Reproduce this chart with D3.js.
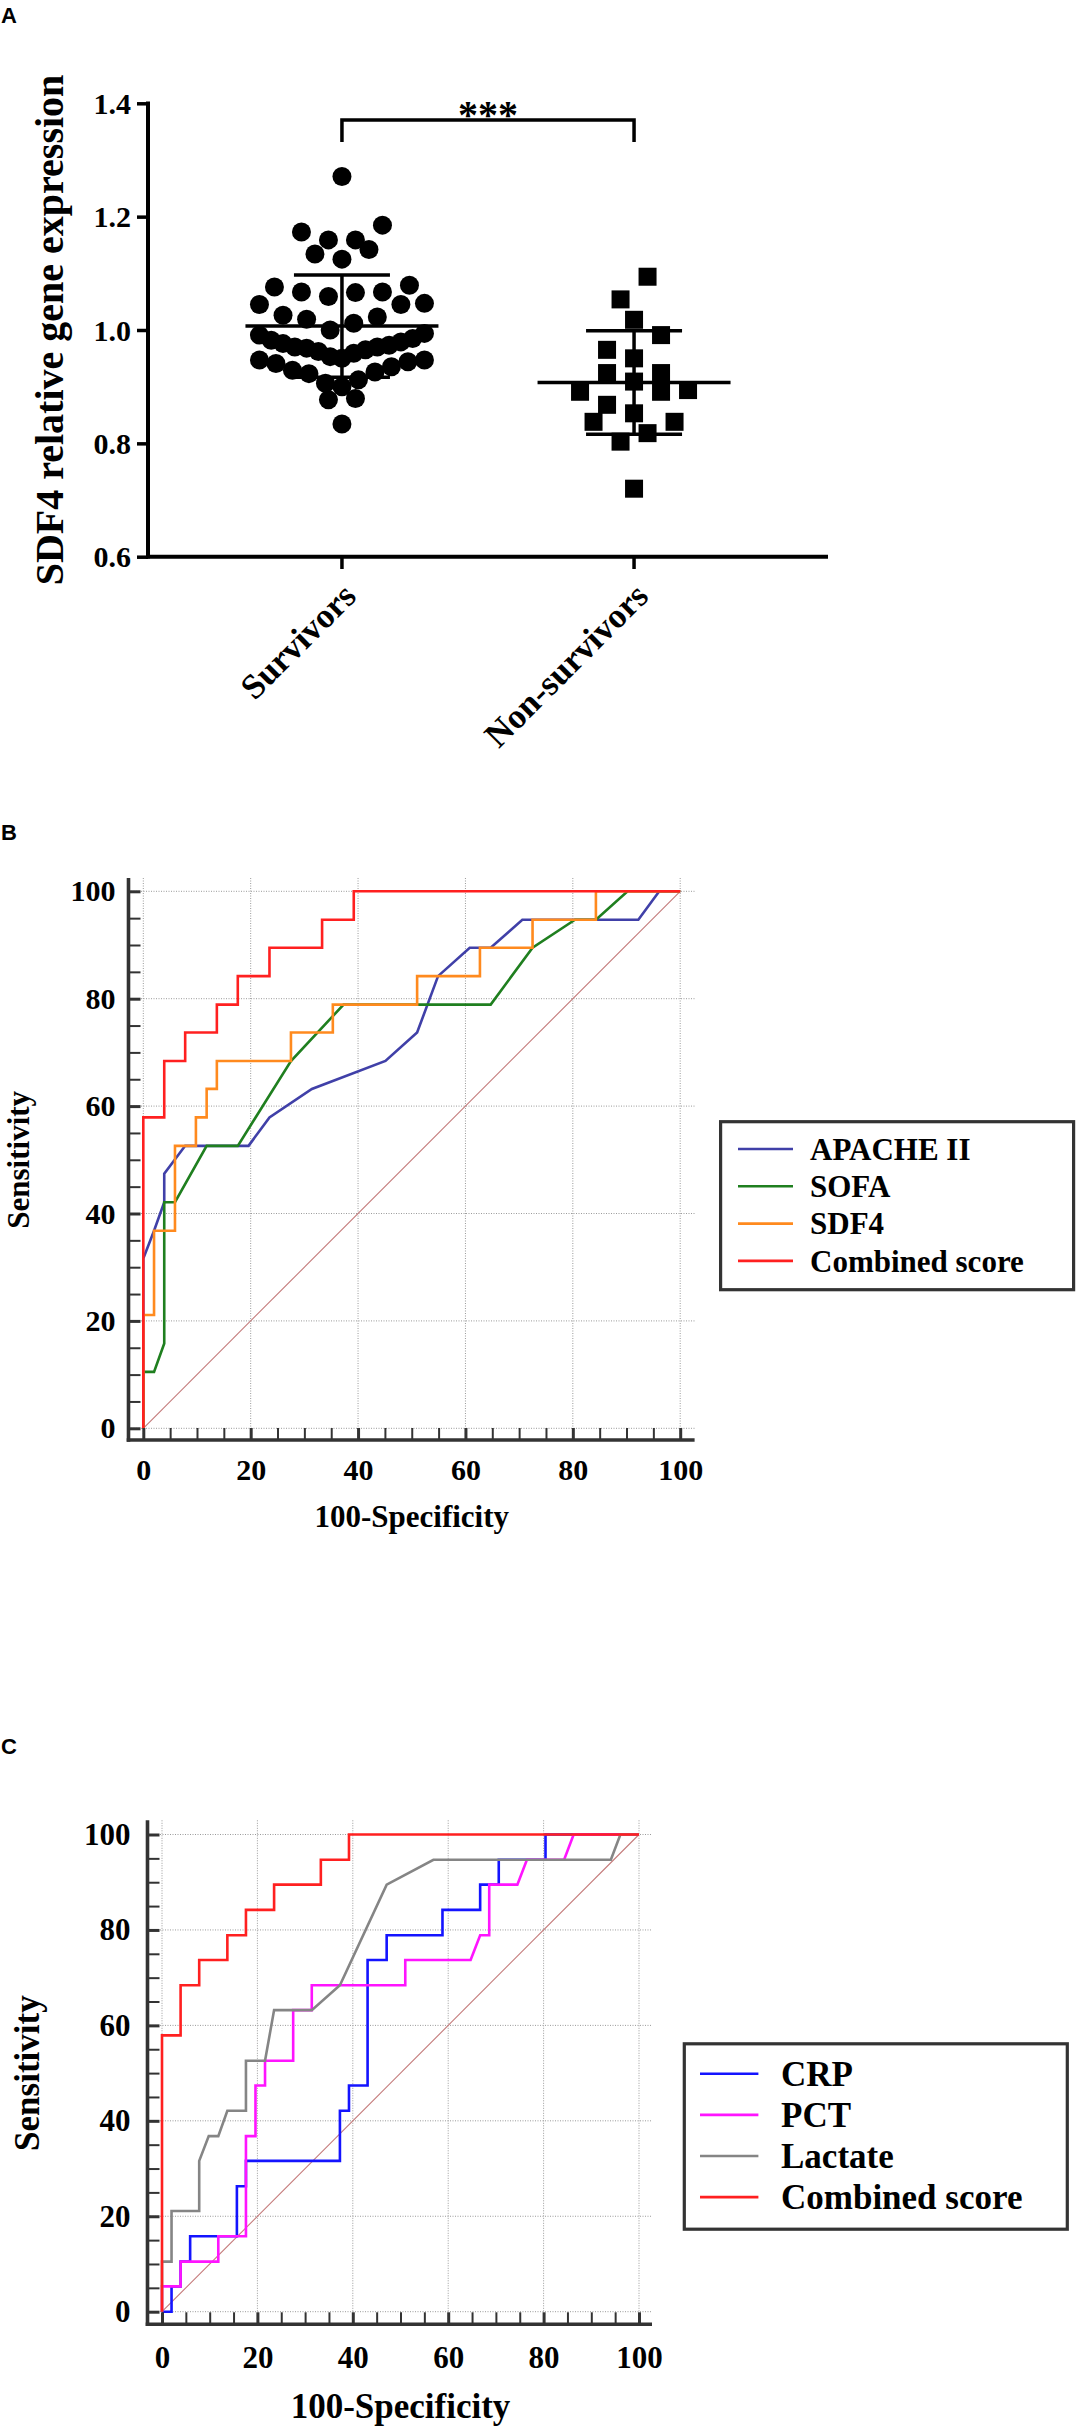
<!DOCTYPE html>
<html>
<head>
<meta charset="utf-8">
<script src="https://cdn.jsdelivr.net/npm/d3@7"></script>
<style>
  body { margin: 0; background: #fff; }
  svg { display: block; }
  text { font-family: "Liberation Serif", "Times New Roman", serif; font-weight: bold; fill: #000; }
  .panel-label { font-family: "Liberation Sans", Arial, sans-serif; font-size: 22px; }
</style>
</head>
<body>
<svg id="fig" width="1076" height="2426"></svg>
<script>
// ---- panel A data ----
const groups = ["Survivors", "Non-survivors"];
const survivors = [1.271, 1.185, 1.173, 1.159, 1.159, 1.142, 1.134, 1.125,
  1.079, 1.067, 1.059, 1.066, 1.067, 1.076, 1.045, 1.045, 1.047,
  1.023, 1.012, 1.019, 1.026, 0.991, 1.000, 0.994,
  0.985, 0.979, 0.973, 0.970, 0.968, 0.962, 0.953, 0.947, 0.950, 0.947,
  0.959, 0.965, 0.970, 0.976, 0.982, 0.944,
  0.941, 0.929, 0.923, 0.906, 0.900, 0.912, 0.926, 0.935, 0.879, 0.877, 0.834];
const nonSurvivors = [1.094, 1.054, 1.018, 0.991, 0.965, 0.950, 0.924, 0.924,
  0.909, 0.894, 0.891, 0.891, 0.868, 0.853, 0.838, 0.838, 0.818, 0.803, 0.720];
const yTicksA = [0.6, 0.8, 1.0, 1.2, 1.4];

// ---- ROC curves, [100-specificity, sensitivity] ----
const apache = [[0,0],[0,31.6],[2.0,36.8],[3.9,42.1],[3.9,47.4],[7.8,52.6],[19.6,52.6],
  [23.5,57.9],[31.4,63.2],[45.1,68.4],[51.0,73.7],[54.9,84.2],[60.8,89.5],[64.7,89.5],
  [70.6,94.7],[92.2,94.7],[96.1,100],[100,100]];
const sofa = [[0,0],[0,10.5],[2.0,10.5],[3.9,15.8],[3.9,42.1],[5.9,42.1],[11.8,52.6],
  [17.6,52.6],[27.5,68.4],[37.3,78.9],[64.7,78.9],[72.5,89.5],[80.4,94.7],[84.3,94.7],
  [90.2,100],[100,100]];
const sdf4 = [[0,0],[0,21.1],[2.0,21.1],[2.0,36.8],[5.9,36.8],[5.9,52.6],[9.8,52.6],
  [9.8,57.9],[11.8,57.9],[11.8,63.2],[13.7,63.2],[13.7,68.4],[27.5,68.4],[27.5,73.7],
  [35.3,73.7],[35.3,78.9],[51.0,78.9],[51.0,84.2],[62.7,84.2],[62.7,89.5],[72.5,89.5],
  [72.5,94.7],[84.3,94.7],[84.3,100],[100,100]];
const combined = [[0,0],[0,57.9],[3.9,57.9],[3.9,68.4],[7.8,68.4],[7.8,73.7],[13.7,73.7],
  [13.7,78.9],[17.6,78.9],[17.6,84.2],[23.5,84.2],[23.5,89.5],[33.3,89.5],[33.3,94.7],
  [39.2,94.7],[39.2,100],[100,100]];
const crp = [[0,0],[2.0,0],[2.0,5.3],[3.9,5.3],[3.9,10.5],[5.9,10.5],[5.9,15.8],[15.7,15.8],
  [15.7,26.3],[17.6,26.3],[17.6,31.6],[37.3,31.6],[37.3,42.1],[39.2,42.1],[39.2,47.4],
  [43.1,47.4],[43.1,73.7],[47.1,73.7],[47.1,78.9],[58.8,78.9],[58.8,84.2],[66.7,84.2],
  [66.7,89.5],[70.6,89.5],[70.6,94.7],[80.4,94.7],[80.4,100],[100,100]];
const pct = [[0,0],[0,5.3],[3.9,5.3],[3.9,10.5],[11.8,10.5],[11.8,15.8],[17.6,15.8],
  [17.6,36.8],[19.6,36.8],[19.6,47.4],[21.6,47.4],[21.6,52.6],[27.5,52.6],[27.5,63.2],
  [31.4,63.2],[31.4,68.4],[51.0,68.4],[51.0,73.7],[64.7,73.7],[66.7,78.9],[68.6,78.9],
  [68.6,89.5],[74.5,89.5],[76.5,94.7],[84.3,94.7],[86.3,100],[100,100]];
const lactate = [[0,0],[0,10.5],[2.0,10.5],[2.0,21.1],[7.8,21.1],[7.8,31.6],[9.8,36.8],
  [11.8,36.8],[13.7,42.1],[17.6,42.1],[17.6,52.6],[21.6,52.6],[23.5,63.2],[31.4,63.2],
  [37.3,68.4],[47.1,89.5],[56.9,94.7],[94.1,94.7],[96.1,100],[100,100]];

const namesB = ["APACHE II", "SOFA", "SDF4", "Combined score"];
const namesC = ["CRP", "PCT", "Lactate", "Combined score"];
const rocTicks = [0, 20, 40, 60, 80, 100];

const svg = d3.select("#fig");

// ================= panel A =================
svg.append("text").attr("class", "panel-label").attr("x", 1).attr("y", 23).text("A");

const yA = d3.scaleLinear().domain([0.6, 1.4]).range([556.7, 103.3]);
const xA = d3.scalePoint().domain(groups).range([148, 828]).padding(0.664);
const gA = svg.append("g");

// Prism-like scatter: values binned in rows, each row spread evenly about the centre,
// lowest values in the middle so the rows curve slightly
function rowSwarm(values, cx, bin, maxStep, maxWidth) {
  const out = [];
  d3.groups(values, v => Math.floor(v / bin + 1e-9)).forEach(([, vals]) => {
    vals = vals.slice().sort(d3.ascending);
    const n = vals.length;
    const step = n > 1 ? Math.min(maxStep, maxWidth / (n - 1)) : 0;
    const slots = d3.range(n).map(j => (j - (n - 1) / 2) * step)
      .sort((a, b) => Math.abs(a) - Math.abs(b) || a - b);
    vals.forEach((v, j) => out.push({x: cx + slots[j], y: yA(v)}));
  });
  return out;
}

const ptsS = rowSwarm(survivors, xA("Survivors"), 0.05, 27, 165);
const ptsN = rowSwarm(nonSurvivors, xA("Non-survivors"), 0.05, 27, 165);

gA.selectAll("circle.s").data(ptsS).enter().append("circle")
  .attr("cx", d => d.x).attr("cy", d => d.y).attr("r", 9.5).attr("fill", "#000");
gA.selectAll("rect.n").data(ptsN).enter().append("rect")
  .attr("x", d => d.x - 9).attr("y", d => d.y - 9).attr("width", 18).attr("height", 18)
  .attr("fill", "#000");

// mean +/- SD
[[survivors, "Survivors"], [nonSurvivors, "Non-survivors"]].forEach(([vals, g]) => {
  const m = d3.mean(vals), sd = d3.deviation(vals), cx = xA(g);
  const ln = (x1, y1, x2, y2) => gA.append("line").attr("x1", x1).attr("y1", y1)
    .attr("x2", x2).attr("y2", y2).attr("stroke", "#000").attr("stroke-width", 3.5);
  ln(cx - 96.5, yA(m), cx + 96.5, yA(m));
  ln(cx - 48, yA(m + sd), cx + 48, yA(m + sd));
  ln(cx - 48, yA(m - sd), cx + 48, yA(m - sd));
  ln(cx, yA(m + sd), cx, yA(m - sd));
});

// axes
const axA = gA.append("g").attr("transform", "translate(148,0)")
  .call(d3.axisLeft(yA).tickValues(yTicksA).tickFormat(d3.format(".1f")).tickSize(11).tickPadding(6));
axA.select(".domain").remove();
axA.selectAll(".tick line").attr("stroke", "#000").attr("stroke-width", 3.5);
axA.selectAll(".tick text").style("font-size", "30px").attr("dy", "0.34em");
gA.append("line").attr("x1", 148).attr("x2", 148).attr("y1", 101.5).attr("y2", 558.5)
  .attr("stroke", "#000").attr("stroke-width", 4);
gA.append("line").attr("x1", 146).attr("x2", 828).attr("y1", 556.7).attr("y2", 556.7)
  .attr("stroke", "#000").attr("stroke-width", 4);
groups.forEach(g => {
  gA.append("line").attr("x1", xA(g)).attr("x2", xA(g)).attr("y1", 556.7).attr("y2", 569)
    .attr("stroke", "#000").attr("stroke-width", 3.5);
  gA.append("text").attr("text-anchor", "end").style("font-size", "35px")
    .attr("transform", `translate(${xA(g) + 16},${598}) rotate(-45)`).text(g);
});
gA.append("text").attr("text-anchor", "middle").style("font-size", "40px")
  .attr("transform", `translate(63,${(103.3 + 556.7) / 2}) rotate(-90)`)
  .text("SDF4 relative gene expression");

// significance bracket
const bx1 = xA("Survivors"), bx2 = xA("Non-survivors");
gA.append("path").attr("d", `M${bx1},142V120H${bx2}V142`).attr("fill", "none")
  .attr("stroke", "#000").attr("stroke-width", 3.5);
gA.append("text").attr("x", (bx1 + bx2) / 2).attr("y", 128).attr("text-anchor", "middle")
  .style("font-size", "40px").text("***");

// ================= ROC panels =================
function rocPanel(o) {
  const g = svg.append("g");
  const x = d3.scaleLinear().domain([0, 100]).range([o.left, o.right]);
  const y = d3.scaleLinear().domain([0, 100]).range([o.bottom, o.top]);

  // dotted grid
  rocTicks.forEach(v => {
    g.append("line").attr("x1", o.axisX).attr("x2", o.axisRight).attr("y1", y(v)).attr("y2", y(v))
      .attr("stroke", "#9a9a9a").attr("stroke-width", 1).attr("stroke-dasharray", "1,1.5");
    g.append("line").attr("x1", x(v)).attr("x2", x(v)).attr("y1", o.axisTop).attr("y2", o.axisY)
      .attr("stroke", "#9a9a9a").attr("stroke-width", 1).attr("stroke-dasharray", "1,1.5");
  });
  // reference diagonal
  g.append("line").attr("x1", x(0)).attr("y1", y(0)).attr("x2", x(100)).attr("y2", y(100))
    .attr("stroke", "#c47a7a").attr("stroke-width", 1.1);

  const line = d3.line().x(d => x(d[0])).y(d => y(d[1]));
  o.series.forEach((s, i) => {
    g.append("path").datum(s).attr("d", line).attr("fill", "none")
      .attr("stroke", o.colors[i]).attr("stroke-width", 2.6);
  });

  const minor = d3.range(0, 101, 5);
  const ay = g.append("g").attr("transform", `translate(${o.axisX},0)`)
    .call(d3.axisLeft(y).tickValues(minor).tickSize(-12).tickPadding(o.labelPad)
      .tickFormat(d => d % 20 === 0 ? d : ""));
  const ax = g.append("g").attr("transform", `translate(0,${o.axisY})`)
    .call(d3.axisBottom(x).tickValues(minor).tickSize(-12).tickPadding(o.xLabelPad)
      .tickFormat(d => d % 20 === 0 ? d : ""));
  [ay, ax].forEach(a => {
    a.select(".domain").remove();
    a.selectAll(".tick line").attr("stroke", "#333")
      .attr("stroke-width", d => d % 20 === 0 ? 3 : 2);
    a.selectAll(".tick text").style("font-size", o.tickFont + "px");
  });
  g.append("line").attr("x1", o.axisX).attr("x2", o.axisX).attr("y1", o.axisTop).attr("y2", o.axisY + 1.8)
    .attr("stroke", "#333").attr("stroke-width", 3.6);
  g.append("line").attr("x1", o.axisX - 1.8).attr("x2", o.axisRight).attr("y1", o.axisY).attr("y2", o.axisY)
    .attr("stroke", "#333").attr("stroke-width", 3.6);

  g.append("text").attr("text-anchor", "middle").style("font-size", o.titleFont + "px")
    .attr("x", (o.left + o.right) / 2).attr("y", o.xTitleY).text("100-Specificity");
  g.append("text").attr("text-anchor", "middle").style("font-size", o.titleFont + "px")
    .attr("transform", `translate(${o.yTitleX},${(o.top + o.bottom) / 2}) rotate(-90)`)
    .text("Sensitivity");

  // legend
  const L = o.legend;
  g.append("rect").attr("x", L.x).attr("y", L.y).attr("width", L.w).attr("height", L.h)
    .attr("fill", "#fff").attr("stroke", "#333").attr("stroke-width", 3.2);
  o.names.forEach((n, i) => {
    const ly = L.first + i * L.gap;
    g.append("line").attr("x1", L.lx1).attr("x2", L.lx2).attr("y1", ly).attr("y2", ly)
      .attr("stroke", o.colors[i]).attr("stroke-width", 2.6);
    g.append("text").attr("x", L.tx).attr("y", ly).attr("dy", "0.35em")
      .style("font-size", L.font + "px").text(n);
  });
}

svg.append("text").attr("class", "panel-label").attr("x", 1).attr("y", 840).text("B");
rocPanel({
  left: 143.3, right: 680.2, bottom: 1428.3, top: 891.3,
  axisX: 128.5, axisY: 1440, axisTop: 878, axisRight: 694.6,
  labelPad: 13, xLabelPad: 19, tickFont: 30, titleFont: 31,
  xTitleY: 1527, yTitleX: 29,
  series: [apache, sofa, sdf4, combined],
  colors: ["#4040a8", "#1f7f1f", "#ff8a1e", "#ff2020"],
  names: namesB,
  legend: {x: 720.6, y: 1121.7, w: 353, h: 168, first: 1149, gap: 37.3,
           lx1: 738, lx2: 793, tx: 810, font: 31}
});

svg.append("text").attr("class", "panel-label").attr("x", 1).attr("y", 1754).text("C");
rocPanel({
  left: 162, right: 639, bottom: 2311.7, top: 1834.5,
  axisX: 147.5, axisY: 2324.3, axisTop: 1820.3, axisRight: 652,
  labelPad: 17, xLabelPad: 22, tickFont: 31, titleFont: 35,
  xTitleY: 2418, yTitleX: 39,
  series: [crp, pct, lactate, combined],
  colors: ["#1414ff", "#ff14ff", "#858585", "#ff2020"],
  names: namesC,
  legend: {x: 684.3, y: 2043.8, w: 383, h: 185.4, first: 2073.8, gap: 41.1,
           lx1: 700, lx2: 758.4, tx: 781, font: 35}
});
</script>
</body>
</html>
